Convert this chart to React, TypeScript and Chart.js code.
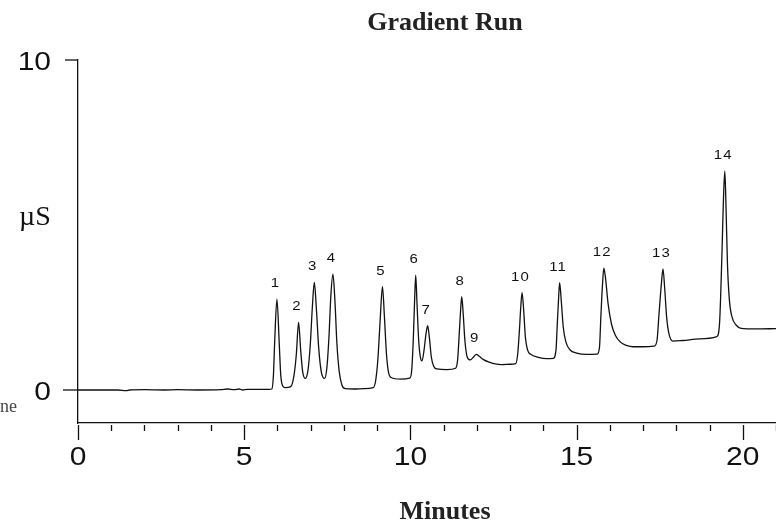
import { useEffect, useRef } from "react";
import { Chart, registerables } from "chart.js";

Chart.register(...registerables);

// Conductivity trace: retention time (min) and detector response (µS)
const minutes = [
  0, 1.2, 1.45, 1.55, 2.0, 2.6, 3.0, 3.6, 4.3, 4.5, 4.7, 4.85, 4.95, 5.1, 5.5, 5.75,
  5.83, 5.88, 5.915, 5.985, 6.055, 6.1, 6.16, 6.23,
  6.4, 6.5, 6.57, 6.636, 6.7, 6.76, 6.84,
  6.92, 6.99, 7.05, 7.11, 7.17, 7.24, 7.32, 7.42,
  7.49, 7.55, 7.61, 7.67, 7.73, 7.79, 7.86, 7.94, 8.04,
  8.3, 8.6, 8.88,
  8.95, 9.02, 9.09, 9.16, 9.22, 9.28, 9.34, 9.42, 9.7, 9.98,
  10.04, 10.09, 10.13, 10.16, 10.2, 10.25, 10.3, 10.35,
  10.41, 10.47, 10.52, 10.57, 10.63, 10.7, 10.8, 11.1, 11.36,
  11.42, 11.47, 11.51, 11.545, 11.59, 11.64, 11.71, 11.8,
  11.9, 11.98, 12.07, 12.2, 12.35, 12.55, 12.75, 13.0, 13.17,
  13.23, 13.28, 13.32, 13.36, 13.41, 13.46, 13.53, 13.62, 13.85, 14.1, 14.3,
  14.38, 14.42, 14.46, 14.49, 14.54, 14.6, 14.68, 14.8, 15.0, 15.3, 15.62,
  15.69, 15.73, 15.78, 15.82, 15.87, 15.95, 16.05, 16.17, 16.32, 16.5, 16.7, 17.0, 17.33,
  17.42, 17.48, 17.55, 17.6, 17.65, 17.71, 17.78, 17.9, 18.2, 18.7, 19.22,
  19.3, 19.37, 19.42, 19.46, 19.5, 19.54, 19.6, 19.68, 19.8, 19.95, 20.4, 21.0,
];

const signal = [
  0, 0, -0.02, 0, 0.01, 0, 0.01, 0, 0.01, 0.03, 0.01, 0.03, 0, 0.02, 0.02, 0.02,
  0.03, 0.45, 1.4, 2.75, 1.4, 0.45, 0.12, 0.07,
  0.1, 0.45, 1.1, 2.05, 1.2, 0.55, 0.35,
  0.6, 1.4, 2.5, 3.26, 2.5, 1.3, 0.55, 0.35,
  0.7, 1.6, 2.9, 3.51, 2.7, 1.4, 0.55, 0.15, 0.04,
  0.03, 0.04, 0.07,
  0.25, 0.9, 2.1, 3.13, 2.2, 1.1, 0.55, 0.38, 0.33, 0.36,
  0.6, 1.6, 2.8, 3.48, 2.6, 1.5, 1.0, 0.88,
  1.2, 1.7, 1.95, 1.6, 1.0, 0.72, 0.64, 0.62, 0.66,
  0.9, 1.7, 2.4, 2.83, 2.3, 1.5, 1.0, 0.91,
  1.0, 1.08, 1.02, 0.92, 0.85, 0.79, 0.77, 0.78, 0.8,
  1.1, 1.8, 2.5, 2.95, 2.4, 1.6, 1.2, 1.08, 0.99, 0.95, 0.96,
  1.2, 2.0, 2.8, 3.25, 2.7, 1.9, 1.45, 1.22, 1.12, 1.08, 1.09,
  1.3, 2.2, 3.2, 3.69, 3.4, 2.6, 2.0, 1.65, 1.45, 1.35, 1.31, 1.31, 1.33,
  1.5, 2.3, 3.2, 3.67, 3.1, 2.2, 1.7, 1.48, 1.5, 1.55, 1.62,
  2.0, 4.0, 5.8, 6.64, 5.4, 3.8, 2.7, 2.2, 1.97, 1.87, 1.85, 1.86,
];

// Numbered peaks and their retention times
const peakNames = ["1", "2", "3", "4", "5", "6", "7", "8", "9", "10", "11", "12", "13", "14"];
const peakMinutes = [5.985, 6.636, 7.11, 7.67, 9.16, 10.16, 10.52, 11.545, 11.98, 13.36, 14.49, 15.82, 17.6, 19.46];

const xTickLabels = [0, 5, 10, 15, 20];
const xMinorTicks = [0, 1, 2, 3, 4, 5, 6, 7, 8, 9, 10, 11, 12, 13, 14, 15, 16, 17, 18, 19, 20, 21];
const yTickLabels = [0, 10];

const chartTitle = "Gradient Run";
const xTitle = "Minutes";
const yTitle = "µS";
const sideNote = "ne";

const INK = "#111";

const annotate = {
  id: "chromAnnotate",
  afterDraw(chart: any) {
    const { ctx, chartArea } = chart;
    const xs = chart.scales.x;
    const ys = chart.scales.y;
    ctx.save();
    ctx.strokeStyle = INK;
    ctx.fillStyle = INK;
    ctx.lineWidth = 1.3;

    // x tick marks below the axis line
    const base = chartArea.bottom;
    xMinorTicks.forEach((v) => {
      const px = Math.round(xs.getPixelForValue(v)) + 0.5;
      const major = xTickLabels.includes(v);
      ctx.beginPath();
      ctx.moveTo(px, base + 2);
      ctx.lineTo(px, base + (major ? 17 : 8));
      ctx.stroke();
    });

    // y tick marks left of the axis
    yTickLabels.forEach((v) => {
      const py = ys.getPixelForValue(v);
      ctx.beginPath();
      ctx.moveTo(chartArea.left - (v === 0 ? 15 : 13), py);
      ctx.lineTo(chartArea.left, py);
      ctx.stroke();
    });

    // tick labels (wide sans)
    ctx.font = "25px 'Liberation Sans', Arial, sans-serif";
    ctx.textBaseline = "alphabetic";
    xTickLabels.forEach((v) => {
      const px = xs.getPixelForValue(v);
      ctx.save();
      ctx.translate(px, base + 42);
      ctx.scale(1.2, 1);
      ctx.textAlign = "center";
      ctx.fillText(String(v), 0, 0);
      ctx.restore();
    });
    yTickLabels.forEach((v) => {
      const py = ys.getPixelForValue(v);
      ctx.save();
      ctx.translate(chartArea.left - 27, py + 9.5);
      ctx.scale(1.2, 1);
      ctx.textAlign = "right";
      ctx.fillText(String(v), 0, 0);
      ctx.restore();
    });

    // peak numbers above each apex
    ctx.font = "13px 'Liberation Sans', Arial, sans-serif";
    (ctx as any).letterSpacing = "1px";
    ctx.textBaseline = "middle";
    peakNames.forEach((name, i) => {
      const idx = minutes.indexOf(peakMinutes[i]);
      const px = xs.getPixelForValue(minutes[idx]);
      const py = ys.getPixelForValue(signal[idx]);
      ctx.save();
      ctx.translate(px - 1.5, py - 15.5);
      ctx.scale(1.15, 1);
      ctx.textAlign = "center";
      ctx.fillText(name, 0, 0);
      ctx.restore();
    });
    (ctx as any).letterSpacing = "0px";

    // titles
    ctx.textBaseline = "alphabetic";
    ctx.fillStyle = "#222";
    ctx.textAlign = "center";
    ctx.font = "bold 26px 'Liberation Serif', 'Times New Roman', serif";
    ctx.fillText(chartTitle, 445, 30);
    ctx.fillText(xTitle, 445, 519);

    ctx.textAlign = "left";
    ctx.font = "28px 'Liberation Serif', 'Times New Roman', serif";
    ctx.fillStyle = INK;
    ctx.fillText(yTitle, 19, 225);

    ctx.font = "18px 'Liberation Serif', 'Times New Roman', serif";
    ctx.fillStyle = "#444";
    ctx.fillText(sideNote, 0, 412);

    ctx.restore();
  },
};

export default function App() {
  const canvasRef = useRef<HTMLCanvasElement | null>(null);

  useEffect(() => {
    if (!canvasRef.current) return;
    const chart = new Chart(canvasRef.current, {
      type: "line",
      data: {
        datasets: [
          {
            data: minutes.map((m, i) => ({ x: m, y: signal[i] })),
            borderColor: INK,
            borderWidth: 1.3,
            pointRadius: 0,
            fill: false,
            cubicInterpolationMode: "monotone",
          },
        ],
      },
      options: {
        animation: false,
        responsive: false,
        events: [],
        layout: { padding: { top: 60, left: 0, right: 0, bottom: 0 } },
        plugins: {
          legend: { display: false },
          title: { display: false },
          tooltip: { enabled: false },
        },
        scales: {
          x: {
            type: "linear",
            min: 0,
            max: 21,
            grid: { drawOnChartArea: false, drawTicks: false },
            border: { display: true, color: INK, width: 1.3 },
            ticks: { display: false },
            afterFit: (s: any) => {
              s.height = 99;
            },
          },
          y: {
            type: "linear",
            min: -1,
            max: 10,
            grid: { drawOnChartArea: false, drawTicks: false },
            border: { display: true, color: INK, width: 1.3 },
            ticks: { display: false },
            afterFit: (s: any) => {
              s.width = 78;
            },
          },
        },
      },
      plugins: [annotate],
    });
    return () => chart.destroy();
  }, []);

  return (
    <div style={{ position: "absolute", left: 0, top: 0, width: 776, height: 522, background: "#fff" }}>
      <canvas ref={canvasRef} width={776} height={522} style={{ width: 776, height: 522, display: "block" }} />
    </div>
  );
}
